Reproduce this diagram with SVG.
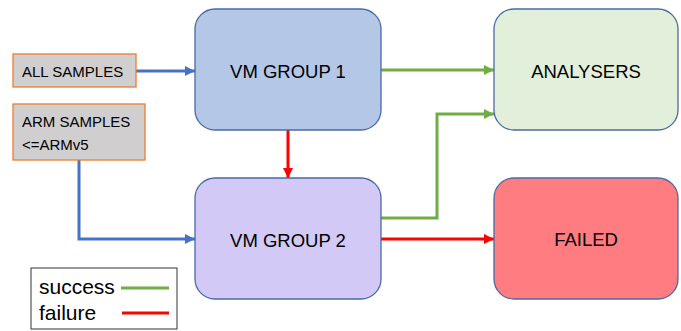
<svg xmlns="http://www.w3.org/2000/svg" width="681" height="331" viewBox="0 0 681 331">
<style>
.node{stroke:#4a6aa5;stroke-width:1.3}
.in{fill:#d0cece;stroke:#ed7d31;stroke-width:1.3}
.nt{font-family:"Liberation Sans",Arial,sans-serif;font-size:18.5px;fill:#000;text-anchor:middle}
.it{font-family:"Liberation Sans",Arial,sans-serif;font-size:15px;fill:#000}
.lt{font-family:"Liberation Sans",Arial,sans-serif;font-size:21px;fill:#000}
.c{fill:none;stroke-width:3}
.b{stroke:#4472c4}
.g{stroke:#70ad47}
.r{stroke:#ff0000}
</style>
<defs>
<marker id="ab" markerUnits="userSpaceOnUse" markerWidth="12" markerHeight="12" refX="10" refY="5" orient="auto"><path d="M0,0 L10,5 L0,10 z" fill="#4472c4"/></marker>
<marker id="ag" markerUnits="userSpaceOnUse" markerWidth="12" markerHeight="12" refX="10" refY="5" orient="auto"><path d="M0,0 L10,5 L0,10 z" fill="#70ad47"/></marker>
<marker id="ar" markerUnits="userSpaceOnUse" markerWidth="12" markerHeight="12" refX="10" refY="5" orient="auto"><path d="M0,0 L10,5 L0,10 z" fill="#ff0000"/></marker>
</defs>
<g id="connectors">
<path class="c b" d="M136,71 H195" marker-end="url(#ab)"/>
<path class="c b" d="M79,160 V239 H195" marker-end="url(#ab)"/>
<path class="c r" d="M288,130 V178" marker-end="url(#ar)"/>
<path class="c g" d="M381,70 H494" marker-end="url(#ag)"/>
<path class="c g" d="M381,218 H437 V114 H494" marker-end="url(#ag)"/>
<path class="c r" d="M381,239 H494" marker-end="url(#ar)"/>
</g>
<g id="all-samples"><rect class="in" x="13" y="54" width="123" height="33"/><text class="it" x="22" y="77">ALL SAMPLES</text></g>
<g id="arm-samples"><rect class="in" x="13" y="104" width="132" height="56"/><text class="it" x="22" y="127">ARM SAMPLES</text><text class="it" x="22" y="150">&lt;=ARMv5</text></g>
<g id="vm-group-1"><rect class="node" x="195" y="9" width="186" height="121" rx="20" fill="#b4c7e7"/><text class="nt" x="288" y="78">VM GROUP 1</text></g>
<g id="analysers"><rect class="node" x="494" y="9" width="184" height="121" rx="20" fill="#e2efda"/><text class="nt" x="586" y="78">ANALYSERS</text></g>
<g id="vm-group-2"><rect class="node" x="195" y="178" width="186" height="121" rx="20" fill="#d2c9f6"/><text class="nt" x="288" y="247">VM GROUP 2</text></g>
<g id="failed"><rect class="node" x="494" y="178" width="184" height="121" rx="20" fill="#ff7c80"/><text class="nt" x="586" y="246">FAILED</text></g>
<g id="legend">
<rect x="31" y="268" width="146" height="61" fill="#fff" stroke="#333" stroke-width="1"/>
<text class="lt" x="39" y="294">success</text>
<text class="lt" x="39" y="320">failure</text>
<path class="c g" d="M121,288 H169"/>
<path class="c r" d="M122,313 H169"/>
</g>
</svg>
